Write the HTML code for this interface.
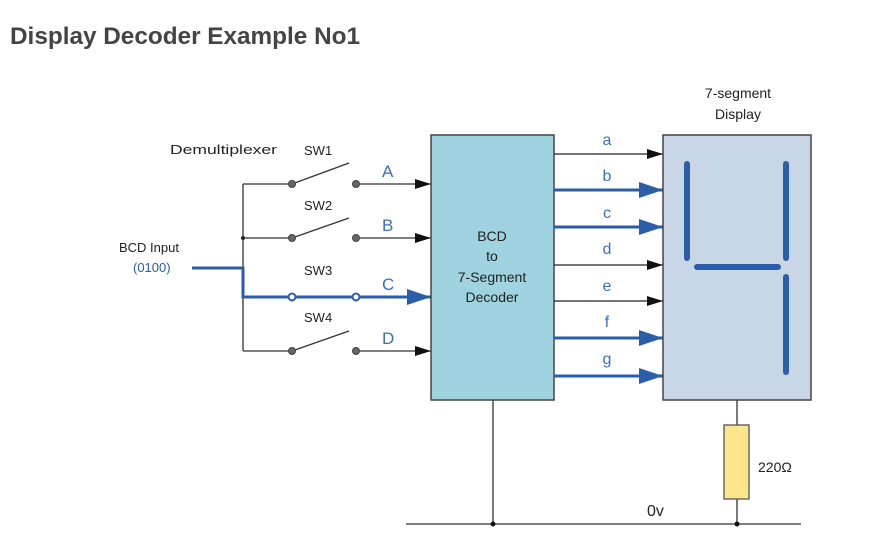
<!DOCTYPE html>
<html><head><meta charset="utf-8"><style>
html,body{margin:0;padding:0;background:#fff;width:883px;height:548px;overflow:hidden}
svg{display:block}
text{font-family:"Liberation Sans",Arial,sans-serif}
</style></head><body>
<svg width="883" height="548" viewBox="0 0 883 548" xmlns="http://www.w3.org/2000/svg">
<defs>
<marker id="ak" markerWidth="16" markerHeight="10" refX="16" refY="5" orient="auto" markerUnits="userSpaceOnUse"><path d="M0,0 L16,5 L0,10 z" fill="#111"/></marker>
<marker id="ab" markerWidth="24" markerHeight="16" refX="24" refY="8" orient="auto" markerUnits="userSpaceOnUse"><path d="M0,0 L24,8 L0,16 z" fill="#2b5ea8"/></marker>
</defs>
<text x="10" y="44" font-size="24" font-weight="bold" fill="#444" textLength="350" lengthAdjust="spacingAndGlyphs">Display Decoder Example No1</text>

<!-- left bus -->
<g stroke="#333" stroke-width="1.3" fill="none">
<line x1="243" y1="184" x2="243" y2="351"/>
<line x1="243" y1="184" x2="292" y2="184"/>
<line x1="243" y1="238" x2="292" y2="238"/>
<line x1="243" y1="351" x2="292" y2="351"/>
<line x1="292" y1="184" x2="349" y2="163"/>
<line x1="292" y1="238" x2="349" y2="218"/>
<line x1="292" y1="351" x2="349" y2="331"/>
<line x1="356" y1="184" x2="431" y2="184" marker-end="url(#ak)"/>
<line x1="356" y1="238" x2="431" y2="238" marker-end="url(#ak)"/>
<line x1="356" y1="351" x2="431" y2="351" marker-end="url(#ak)"/>
</g>
<circle cx="243" cy="238" r="2" fill="#222"/>
<g fill="#666" stroke="#444" stroke-width="1">
<circle cx="292" cy="184" r="3.5"/><circle cx="356" cy="184" r="3.5"/>
<circle cx="292" cy="238" r="3.5"/><circle cx="356" cy="238" r="3.5"/>
<circle cx="292" cy="351" r="3.5"/><circle cx="356" cy="351" r="3.5"/>
</g>
<polyline points="192,268 243,268 243,297 431,297" fill="none" stroke="#2b5ea8" stroke-width="3" marker-end="url(#ab)"/>
<circle cx="292" cy="297" r="3.5" fill="#fff" stroke="#2b5ea8" stroke-width="2"/>
<circle cx="356" cy="297" r="3.5" fill="#fff" stroke="#2b5ea8" stroke-width="2"/>

<g font-size="13" fill="#222">
<text x="170" y="154" textLength="107" lengthAdjust="spacingAndGlyphs">Demultiplexer</text>
<text x="304" y="155">SW1</text>
<text x="304" y="210">SW2</text>
<text x="304" y="275">SW3</text>
<text x="304" y="322">SW4</text>
<text x="119" y="252">BCD Input</text>
</g>
<text x="133" y="272" font-size="13" fill="#2b5ea8">(0100)</text>
<g font-size="17" fill="#3a6fc0">
<text x="382" y="177">A</text><text x="382" y="231">B</text><text x="382" y="290">C</text><text x="382" y="344">D</text>
</g>

<!-- BCD box -->
<rect x="431" y="135" width="123" height="265" fill="#9ed3df" stroke="#444" stroke-width="1.5"/>
<g font-size="14" fill="#222" text-anchor="middle">
<text x="492" y="241">BCD</text><text x="492" y="261">to</text>
<text x="492" y="282">7-Segment</text><text x="492" y="302">Decoder</text>
</g>

<!-- outputs -->
<g fill="none">
<line x1="554" y1="154" x2="663" y2="154" stroke="#222" stroke-width="1.3" marker-end="url(#ak)"/>
<line x1="554" y1="190" x2="663" y2="190" stroke="#2b5ea8" stroke-width="3" marker-end="url(#ab)"/>
<line x1="554" y1="227" x2="663" y2="227" stroke="#2b5ea8" stroke-width="3" marker-end="url(#ab)"/>
<line x1="554" y1="265" x2="663" y2="265" stroke="#222" stroke-width="1.3" marker-end="url(#ak)"/>
<line x1="554" y1="301" x2="663" y2="301" stroke="#222" stroke-width="1.3" marker-end="url(#ak)"/>
<line x1="554" y1="338" x2="663" y2="338" stroke="#2b5ea8" stroke-width="3" marker-end="url(#ab)"/>
<line x1="554" y1="376" x2="663" y2="376" stroke="#2b5ea8" stroke-width="3" marker-end="url(#ab)"/>
</g>
<g font-size="16" fill="#3a6fc0" text-anchor="middle">
<text x="607" y="145">a</text><text x="607" y="181">b</text><text x="607" y="218">c</text>
<text x="607" y="254">d</text><text x="607" y="291">e</text><text x="607" y="327">f</text><text x="607" y="364">g</text>
</g>

<!-- display -->
<rect x="663" y="135" width="148" height="265" fill="#c9d6e6" stroke="#444" stroke-width="1.5"/>
<g stroke="#2b5ea8" stroke-width="6" stroke-linecap="round">
<line x1="687" y1="164" x2="687" y2="258"/>
<line x1="786" y1="164" x2="786" y2="258"/>
<line x1="697" y1="267" x2="778" y2="267"/>
<line x1="786" y1="277" x2="786" y2="372"/>
</g>
<g font-size="14" fill="#222" text-anchor="middle">
<text x="738" y="98">7-segment</text><text x="738" y="119">Display</text>
</g>

<!-- ground -->
<g stroke="#333" stroke-width="1.3">
<line x1="406" y1="524" x2="801" y2="524"/>
<line x1="493" y1="400" x2="493" y2="524"/>
<line x1="737" y1="400" x2="737" y2="425"/>
<line x1="737" y1="499" x2="737" y2="524"/>
</g>
<rect x="724" y="425" width="25" height="74" fill="#fde58c" stroke="#555" stroke-width="1.3"/>
<circle cx="493" cy="524" r="2.5" fill="#111"/><circle cx="737" cy="524" r="2.5" fill="#111"/>
<text x="758" y="472" font-size="14" fill="#222">220Ω</text>
<text x="647" y="516" font-size="16" fill="#222">0v</text>
</svg>
</body></html>
